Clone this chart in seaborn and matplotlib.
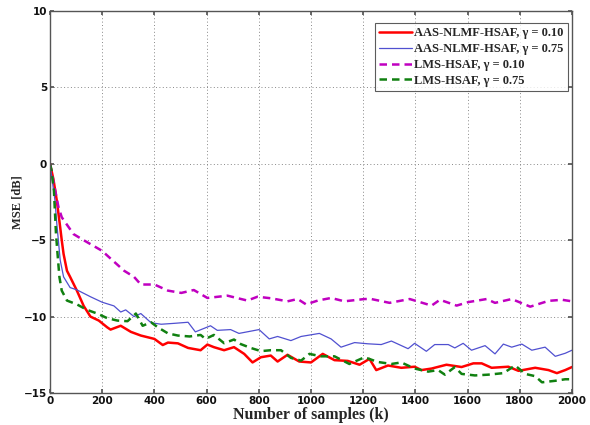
import numpy as np
import pandas as pd
import matplotlib
matplotlib.use("Agg")
import matplotlib.pyplot as plt
import seaborn as sns

# ---- data ----
k_aas010 = [0, 13, 26, 39, 45, 52, 65, 77, 103, 129, 155, 187, 219, 232, 271, 310, 348, 400, 432, 452,
            490, 529, 577, 603, 628, 667, 705, 744, 776, 808, 846, 872, 910, 955, 1000, 1045, 1090, 1141, 1186, 1224,
            1250, 1295, 1346, 1397, 1423, 1462, 1519, 1577, 1622, 1654, 1692, 1756, 1795, 1859, 1910, 1942, 1974, 2000]
mse_aas010 = [0, -1.0, -2.4, -4.15, -5.0, -5.9, -7.0, -7.4, -8.3, -9.3, -10.0, -10.26, -10.7, -10.85, -10.6, -11.0, -11.24, -11.46, -11.86, -11.7,
              -11.75, -12.05, -12.2, -11.83, -12.0, -12.2, -12.0, -12.44, -13.0, -12.66, -12.55, -12.94, -12.5, -12.94, -13.0, -12.44, -12.85, -12.9, -13.15, -12.77,
              -13.5, -13.2, -13.35, -13.28, -13.5, -13.4, -13.15, -13.3, -13.06, -13.06, -13.35, -13.28, -13.55, -13.35, -13.5, -13.7, -13.5, -13.3]

k_aas075 = [0, 19, 26, 32, 39, 52, 77, 103, 155, 200, 245, 271, 290, 322, 348, 387, 426, 477, 529, 557,
            615, 641, 692, 724, 801, 840, 872, 923, 962, 1032, 1077, 1115, 1167, 1218, 1269, 1308, 1372, 1397, 1442, 1474,
            1526, 1551, 1583, 1615, 1667, 1705, 1737, 1769, 1808, 1846, 1897, 1936, 1974, 2000]
mse_aas075 = [0, -2.4, -3.9, -5.0, -6.3, -7.4, -8.1, -8.25, -8.7, -9.06, -9.3, -9.7, -9.56, -10.0, -9.8, -10.4, -10.5, -10.44, -10.37, -11.0,
              -10.6, -10.9, -10.85, -11.1, -10.85, -11.46, -11.3, -11.57, -11.3, -11.1, -11.46, -12.0, -11.7, -11.78, -11.83, -11.6, -12.1, -11.75, -12.27, -11.83,
              -11.83, -12.05, -11.75, -12.2, -11.9, -12.44, -11.8, -12.0, -11.8, -12.2, -12.0, -12.6, -12.4, -12.2]

k_lms010 = [0, 32, 45, 90, 129, 200, 219, 284, 322, 348, 400, 452, 503, 551, 603, 680, 756, 795, 846, 910,
            949, 981, 1026, 1077, 1128, 1205, 1231, 1301, 1378, 1462, 1494, 1558, 1603, 1673, 1705, 1769, 1840, 1910, 1962, 2000]
mse_lms010 = [0, -2.8, -3.5, -4.6, -5.0, -5.7, -6.0, -7.0, -7.4, -7.9, -7.9, -8.3, -8.45, -8.26, -8.78, -8.63, -8.95, -8.7, -8.8, -9.0,
              -8.85, -9.2, -8.95, -8.78, -9.0, -8.85, -8.85, -9.1, -8.85, -9.28, -8.9, -9.28, -9.05, -8.85, -9.1, -8.85, -9.35, -8.97, -8.9, -9.0]

k_lms075 = [0, 6, 15, 23, 28, 36, 45, 65, 103, 142, 181, 219, 258, 297, 329, 355, 387, 413, 452, 490,
            535, 577, 596, 628, 667, 705, 731, 769, 808, 846, 885, 923, 962, 994, 1038, 1090, 1147, 1205, 1256, 1308,
            1346, 1397, 1449, 1487, 1513, 1551, 1577, 1628, 1679, 1737, 1782, 1821, 1859, 1885, 1936, 1974, 2000]
mse_lms075 = [0, -0.44, -1.75, -4.6, -5.7, -7.4, -8.3, -8.95, -9.2, -9.56, -9.8, -10.1, -10.26, -10.3, -9.8, -10.6, -10.37, -10.7, -11.1, -11.24,
              -11.3, -11.2, -11.46, -11.2, -11.74, -11.5, -11.8, -12.05, -12.26, -12.2, -12.2, -12.7, -12.88, -12.44, -12.6, -12.6, -13.1, -12.66, -12.97, -13.1,
              -13.0, -13.4, -13.6, -13.5, -13.8, -13.3, -13.75, -13.85, -13.8, -13.7, -13.2, -13.75, -13.9, -14.3, -14.2, -14.1, -14.1]

labels = ["AAS-NLMF-HSAF, \u03b3 = 0.10", "AAS-NLMF-HSAF, \u03b3 = 0.75",
          "LMS-HSAF, \u03b3 = 0.10", "LMS-HSAF, \u03b3 = 0.75"]
x_ticks = [0, 200, 400, 600, 800, 1000, 1200, 1400, 1600, 1800, 2000]
y_ticks = [-15, -10, -5, 0, 5, 10]

series = [(k_aas010, mse_aas010), (k_aas075, mse_aas075), (k_lms010, mse_lms010), (k_lms075, mse_lms075)]
frames = [pd.DataFrame({"k": k, "mse": m, "series": lab}) for (k, m), lab in zip(series, labels)]
df = pd.concat(frames, ignore_index=True)

# ---- style ----
sns.set_theme(style="white")
plt.rcParams["font.family"] = ["DejaVu Sans"]

colors = ["#ff0000", "#5050d0", "#c000c0", "#108010"]
styles = ["-", "-", "--", "--"]
widths = [1.8, 0.9, 1.8, 1.8]

fig = plt.figure(figsize=(5.9, 4.25), dpi=100)
ax = fig.add_axes([50 / 590, 1 - 393 / 425, (572 - 50) / 590, (393 - 11) / 425])

for lab, c, ls, lw in zip(labels, colors, styles, widths):
    sub = df[df["series"] == lab]
    line_ax = sns.lineplot(data=sub, x="k", y="mse", color=c, linewidth=lw, ax=ax,
                           label=lab, estimator=None, sort=False)
    line_ax.lines[-1].set_linestyle(ls)
    if ls == "--":
        line_ax.lines[-1].set_dashes((3, 2))

ax.set_xlim(0, 2000)
ax.set_ylim(-15, 10)
ax.set_xticks(x_ticks)
ax.set_yticks(y_ticks)
ax.grid(True, linestyle=(0, (1, 2.5)), color="#888888", linewidth=0.7)
for s in ax.spines.values():
    s.set_color("#555555")
    s.set_linewidth(1.0)
ax.tick_params(direction="in", length=3, color="#555555", top=True, right=True,
               bottom=True, left=True, pad=2)
for t in ax.get_xticklabels() + ax.get_yticklabels():
    t.set_fontsize(7.5)
    t.set_fontweight("bold")
    t.set_color("#111111")

ax.set_xlabel("Number of samples (k)", fontsize=11.5, fontweight="bold",
              family=["Liberation Serif", "DejaVu Serif"], labelpad=1)
ax.set_ylabel("MSE [dB]", fontsize=9, fontweight="bold",
              family=["Liberation Serif", "DejaVu Serif"], labelpad=3)
ax.yaxis.set_label_coords(-27 / 522, 0.5)

handles, labs = ax.get_legend_handles_labels()
for h, ls in zip(handles, styles):
    h.set_linestyle(ls)
    if ls == "--":
        h.set_dashes((3, 2))
leg = ax.legend(handles, labs, loc="upper right", bbox_to_anchor=(568.0 / 590, 1 - 23 / 425),
                bbox_transform=fig.transFigure, frameon=True, fancybox=False,
                prop={"family": ["Liberation Serif", "DejaVu Serif"], "weight": "bold", "size": 9},
                handlelength=2.6, handletextpad=0.2, borderpad=0.35, labelspacing=0.3,
                borderaxespad=0)
leg.get_frame().set_edgecolor("#333333")
leg.get_frame().set_linewidth(0.8)

fig.savefig("out.png", dpi=100, facecolor="white")
